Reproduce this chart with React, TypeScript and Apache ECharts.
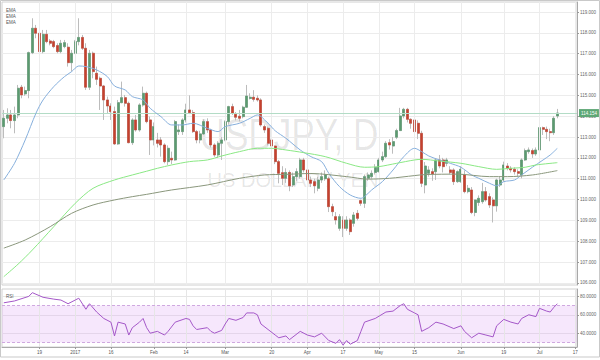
import { useEffect, useRef } from "react";
import * as echarts from "echarts";

// ---------- categories (trading days) ----------
const firstDay = "2016-12-05";
const lastDay = "2017-07-17";
function weekdays(a: string, b: string): string[] {
  const out: string[] = [];
  const d = new Date(a + "T00:00:00Z");
  const e = new Date(b + "T00:00:00Z");
  while (d <= e) {
    const w = d.getUTCDay();
    if (w !== 0 && w !== 6) out.push(d.toISOString().slice(0, 10));
    d.setUTCDate(d.getUTCDate() + 1);
  }
  return out;
}
const dates = weekdays(firstDay, lastDay);

// ---------- x tick labels ----------
const tickDates = [
  "2016-12-19", "2017-01-02", "2017-01-16", "2017-02-01", "2017-02-14", "2017-03-01", "2017-03-20",
  "2017-04-03", "2017-04-17", "2017-05-01", "2017-05-15", "2017-06-01", "2017-06-19", "2017-07-03", "2017-07-17",
];
const tickTexts = ["19", "2017", "16", "Feb", "14", "Mar", "20", "Apr", "17", "May", "15", "Jun", "19", "Jul", "17"];

// ---------- y tick values ----------
const priceTicks = [106, 107, 108, 109, 110, 111, 112, 113, 114, 115, 116, 117, 118, 119];
const rsiTicks = [40, 60, 80];
const rsiBand = [30, 70];

// ---------- daily candles: [open, close, low, high] ----------
const ohlc: [number, number, number, number][] = [
  [113.50, 113.90, 112.94, 114.30], [113.90, 114.06, 113.66, 114.38], [114.06, 113.79, 113.42, 114.30],
  [113.79, 114.06, 113.18, 114.46], [114.06, 115.34, 113.90, 115.50], [115.39, 115.02, 114.86, 115.50],
  [115.07, 115.23, 114.98, 115.42], [115.23, 117.05, 114.86, 117.10], [117.05, 118.22, 116.98, 118.70],
  [118.22, 117.98, 117.74, 118.38], [117.98, 117.10, 116.62, 118.06], [117.10, 117.93, 117.02, 118.14],
  [117.93, 117.58, 117.50, 118.14], [117.61, 117.50, 117.40, 117.70], [117.58, 117.34, 117.26, 117.66],
  [117.39, 117.10, 117.02, 117.50], [117.10, 117.50, 117.02, 117.66], [117.34, 117.53, 117.26, 117.66],
  [117.31, 116.57, 116.38, 117.50], [116.57, 117.02, 116.14, 117.18], [117.02, 117.58, 116.98, 117.66],
  [117.58, 117.78, 117.40, 118.70], [117.78, 117.26, 117.18, 117.90], [117.26, 115.39, 115.26, 117.50],
  [115.39, 117.02, 115.26, 117.18], [117.02, 116.14, 115.82, 117.10], [116.06, 115.77, 115.50, 116.38],
  [115.82, 115.45, 114.30, 115.90], [115.45, 114.78, 113.82, 115.50], [114.78, 114.49, 114.14, 114.94],
  [114.49, 114.22, 113.82, 114.62], [114.22, 112.67, 112.62, 114.46], [112.67, 114.65, 112.62, 114.78],
  [114.65, 114.89, 114.62, 115.66], [114.89, 114.62, 114.46, 115.02], [114.62, 112.73, 112.70, 114.70],
  [112.73, 113.82, 112.62, 113.90], [113.82, 113.34, 113.26, 114.06], [113.34, 114.54, 113.26, 114.62],
  [114.54, 115.10, 114.46, 115.42], [115.10, 113.74, 113.66, 115.18], [113.82, 112.86, 112.14, 113.98],
  [112.86, 113.50, 112.60, 113.70], [112.86, 112.70, 112.50, 113.20], [112.86, 112.62, 112.06, 113.00],
  [112.62, 111.82, 111.74, 112.70], [111.82, 112.46, 111.66, 112.60], [111.98, 111.90, 111.70, 112.30],
  [111.90, 113.74, 111.86, 113.82], [113.26, 113.34, 113.10, 113.60], [113.26, 113.82, 113.10, 113.90],
  [113.82, 114.30, 113.70, 114.60], [114.30, 114.17, 114.10, 115.00], [114.17, 113.26, 113.20, 114.30],
  [113.26, 112.86, 112.70, 113.34], [112.86, 113.15, 112.70, 113.30], [113.15, 113.74, 113.10, 113.85],
  [113.74, 113.34, 113.20, 113.90], [113.34, 112.62, 112.50, 113.40], [112.62, 112.14, 112.05, 112.70],
  [112.14, 112.70, 112.00, 112.80], [112.70, 112.86, 111.90, 113.00], [112.86, 113.74, 112.80, 113.80],
  [113.74, 114.46, 113.60, 114.50], [114.46, 114.14, 114.06, 114.60], [114.09, 113.95, 113.80, 114.20],
  [114.00, 113.90, 113.75, 114.30], [113.98, 114.43, 113.90, 114.50], [114.43, 114.97, 114.40, 115.50],
  [114.85, 114.91, 114.80, 115.10], [114.91, 114.81, 114.70, 115.25], [114.86, 114.78, 114.70, 115.00],
  [114.78, 113.58, 113.50, 114.86], [113.50, 113.34, 113.20, 113.60], [113.42, 112.70, 112.60, 113.50],
  [112.86, 112.57, 112.50, 112.90], [112.57, 111.82, 111.70, 112.60], [111.82, 111.26, 110.78, 111.90],
  [111.29, 111.02, 110.70, 111.60], [111.02, 111.30, 110.80, 111.50], [111.30, 110.66, 110.40, 111.40],
  [110.70, 111.10, 110.60, 111.30], [111.10, 111.34, 110.90, 111.50], [111.10, 111.90, 111.00, 112.00],
  [111.90, 111.42, 111.30, 112.00], [111.42, 110.94, 110.80, 111.50], [110.94, 110.78, 110.60, 111.10],
  [110.86, 110.66, 110.30, 111.00], [110.54, 110.94, 110.40, 111.10], [110.94, 111.10, 110.80, 111.30],
  [111.00, 111.20, 110.90, 111.40], [111.00, 109.66, 109.40, 111.10], [109.66, 109.42, 109.20, 109.80],
  [109.18, 109.02, 108.80, 109.40], [108.62, 109.18, 108.50, 109.30], [109.02, 108.62, 108.20, 109.20],
  [108.62, 109.02, 108.50, 109.20], [109.02, 108.46, 108.30, 109.10], [108.86, 109.26, 108.70, 109.40],
  [109.34, 109.10, 109.00, 109.50], [109.95, 109.82, 109.70, 110.00], [109.82, 111.10, 109.60, 111.20],
  [111.02, 111.18, 110.90, 111.30], [111.10, 111.26, 111.00, 111.40], [111.30, 111.55, 111.20, 111.70],
  [111.34, 111.90, 111.30, 112.00], [111.90, 112.06, 111.80, 112.30], [112.06, 112.70, 112.00, 112.80],
  [112.73, 112.62, 112.40, 112.90], [112.57, 112.78, 112.20, 113.00], [112.99, 113.31, 112.90, 113.40],
  [113.31, 114.01, 113.30, 114.40], [114.01, 114.33, 113.90, 114.40], [114.33, 113.85, 113.70, 114.40],
  [113.85, 113.66, 113.40, 113.90], [113.82, 113.26, 113.20, 113.90], [113.66, 113.18, 112.90, 113.80],
  [113.18, 110.78, 110.60, 113.30], [110.70, 111.61, 110.30, 111.80], [111.26, 111.42, 111.10, 111.60],
  [111.34, 111.23, 110.90, 111.50], [111.34, 111.90, 110.94, 111.98], [111.90, 111.61, 111.50, 112.14],
  [111.90, 111.58, 111.30, 112.00], [111.74, 111.90, 111.60, 112.00], [111.42, 111.30, 111.20, 111.60],
  [111.42, 110.86, 110.70, 111.50], [110.86, 111.34, 110.80, 111.40], [110.86, 111.45, 110.80, 111.60],
  [111.18, 110.38, 110.30, 111.40], [110.38, 110.54, 110.30, 110.70], [110.46, 109.38, 109.30, 110.60],
  [109.38, 109.98, 109.20, 110.00], [109.86, 110.06, 109.70, 110.20], [109.90, 110.38, 109.80, 110.80],
  [110.38, 109.98, 109.90, 110.60], [110.14, 109.74, 109.60, 110.30], [109.98, 109.70, 108.90, 110.10],
  [109.70, 110.94, 109.42, 111.00], [110.70, 110.94, 110.60, 111.10], [110.94, 111.66, 110.86, 111.82],
  [111.61, 111.50, 111.40, 111.75], [111.50, 111.42, 111.30, 111.60], [111.45, 111.34, 111.20, 111.55],
  [111.34, 111.26, 111.10, 111.45], [111.18, 111.90, 111.02, 111.98], [111.90, 112.35, 111.85, 112.45],
  [112.30, 112.38, 112.20, 112.50], [112.35, 112.19, 112.00, 112.45], [112.19, 112.38, 112.10, 112.50],
  [112.38, 113.45, 112.30, 113.50], [113.45, 113.37, 113.10, 113.50], [113.37, 113.26, 112.90, 113.50],
  [113.26, 113.21, 112.80, 113.40], [113.21, 113.90, 113.10, 114.00], [114.01, 114.154, 113.90, 114.35],
];

// ---------- moving averages, read at sample days: [day number (1 = first candle), value] ----------
const emaBlue: [number, number][] = [
  [1, 110.94], [4, 111.74], [7, 112.86], [10, 114.14], [12, 114.78], [15, 115.42], [18, 115.90], [20, 116.14],
  [22, 116.41], [24, 116.38], [27, 116.22], [30, 115.90], [32, 115.45], [35, 115.26], [37, 114.94], [40, 114.78],
  [42, 114.38], [45, 113.98], [48, 113.58], [51, 113.58], [54, 113.66], [58, 113.42], [61, 113.26], [63, 113.50],
  [67, 113.66], [70, 113.90], [72, 114.06], [75, 113.66], [77, 113.30], [80, 112.94], [84, 112.38], [87, 112.06],
  [90, 111.82], [92, 111.26], [95, 110.62], [98, 110.22], [101, 110.06], [102, 110.14], [104, 110.46], [107, 110.86],
  [110, 111.42], [113, 112.06], [116, 112.46], [118, 112.30], [120, 112.09], [123, 111.90], [126, 111.74],
  [129, 111.55], [132, 111.18], [134, 111.02], [137, 110.78], [139, 110.66], [141, 110.86], [144, 110.94],
  [146, 111.18], [149, 111.55], [152, 111.90], [154, 112.14], [156, 112.46],
];
const emaGreen: [number, number][] = [
  [1, 106.30], [5, 106.90], [9, 107.58], [15, 108.70], [21, 109.82], [26, 110.54], [32, 110.94], [37, 111.18],
  [41, 111.36], [44, 111.50], [48, 111.66], [53, 111.82], [58, 111.90], [62, 112.09], [67, 112.30], [72, 112.46],
  [76, 112.46], [80, 112.38], [85, 112.25], [91, 112.06], [97, 111.74], [102, 111.55], [106, 111.58], [111, 111.74],
  [116, 111.90], [118, 111.93], [123, 111.85], [129, 111.74], [134, 111.58], [139, 111.45], [143, 111.50],
  [147, 111.55], [150, 111.66], [156, 111.77],
];
const emaDark: [number, number][] = [
  [1, 107.67], [7, 108.06], [14, 108.70], [20, 109.34], [26, 109.74], [32, 109.98], [37, 110.14], [41, 110.25],
  [48, 110.46], [58, 110.70], [67, 111.02], [74, 111.18], [80, 111.21], [87, 111.25], [97, 111.10], [103, 110.98],
  [109, 111.02], [116, 111.15], [119, 111.20], [128, 111.22], [137, 111.10], [142, 111.10], [149, 111.18],
  [156, 111.39],
];

// ---------- RSI, read at sample days ----------
const rsi: [number, number][] = [
  [1, 73], [4, 75], [8, 80], [9, 84], [12, 79], [15, 77], [17, 76], [19, 72], [21, 76], [22, 78], [24, 66],
  [25, 72], [27, 63], [29, 56], [31, 52], [32, 37], [33, 52], [35, 50], [36, 38], [37, 46], [39, 52], [40, 56],
  [41, 46], [42, 40], [44, 42], [46, 38], [47, 42], [49, 52], [52, 56], [53, 55], [54, 48], [55, 44], [58, 46],
  [59, 42], [60, 40], [62, 43], [63, 50], [64, 56], [66, 54], [68, 57], [69, 62], [71, 62], [72, 60], [73, 50],
  [75, 44], [77, 38], [78, 35], [80, 37], [81, 33], [84, 42], [86, 38], [88, 36], [90, 40], [92, 32], [94, 29],
  [95, 33], [96, 27], [97, 32], [98, 28], [100, 32], [101, 42], [102, 52], [105, 56], [108, 63], [110, 64],
  [112, 70], [113, 72], [114, 66], [116, 62], [117, 60], [118, 42], [120, 46], [122, 52], [124, 50], [127, 45],
  [129, 48], [130, 42], [132, 35], [134, 40], [136, 38], [138, 36], [139, 48], [141, 55], [143, 52], [145, 50],
  [146, 56], [148, 60], [150, 58], [151, 67], [153, 64], [154, 63], [155, 68], [156, 72],
];

const GREEN = "#5b9b70";
const RED = "#c6412e";
const WICK = "#bcbcbc";
const FONT = "'Liberation Sans', Arial, sans-serif";

export default function App() {
  const ref = useRef<HTMLDivElement>(null);
  useEffect(() => {
    if (!ref.current) return;
    const chart = echarts.init(ref.current, undefined, { renderer: "svg" });
    const labelOf: Record<string, string> = {};
    tickDates.forEach((d, i) => (labelOf[d] = tickTexts[i]));
    const isTick = (_i: number, v: string) => v in labelOf;
    const toPts = (arr: [number, number][]) => arr.map(([n, v]) => [dates[n - 1], v]);
    const lastClose = ohlc[ohlc.length - 1][1];
    const vLines = tickDates.map((d) => ({ xAxis: d }));
    const blanks = dates.map(() => "-");

    chart.setOption({
      animation: false,
      backgroundColor: "#ffffff",
      textStyle: { fontFamily: FONT },
      grid: [
        { left: 2, right: 23, top: 2, height: 283, show: true, borderColor: "#d0d0d0", borderWidth: 1, backgroundColor: "transparent" },
        { left: 2, right: 23, top: 289, height: 58, show: true, borderColor: "#d0d0d0", borderWidth: 1, backgroundColor: "transparent" },
      ],
      xAxis: [
        {
          type: "category", gridIndex: 0, data: dates, boundaryGap: true,
          axisLine: { show: false }, axisTick: { show: false }, axisLabel: { show: false }, splitLine: { show: false },
        },
        {
          type: "category", gridIndex: 1, data: dates, boundaryGap: true,
          axisLine: { show: true, lineStyle: { color: "#aaaaaa" } },
          axisTick: { show: true, alignWithLabel: true, interval: isTick, length: 2, lineStyle: { color: "#999" } },
          axisLabel: { interval: isTick, formatter: (v: string) => labelOf[v] || "", fontSize: 4.5, color: "#555", margin: 3 },
          splitLine: { show: false },
        },
      ],
      yAxis: [
        {
          type: "value", gridIndex: 0, position: "right", min: 105.9, max: 119.48, scale: true,
          axisLine: { show: true, lineStyle: { color: "#a8a8a8" } },
          axisTick: { show: true, customValues: priceTicks, length: 2, lineStyle: { color: "#999" } },
          axisLabel: { customValues: priceTicks, formatter: (v: number) => v.toFixed(3), fontSize: 4.5, color: "#666", margin: 3 },
          splitLine: { show: true, lineStyle: { color: "#ececec", width: 1 } },
        },
        {
          type: "value", gridIndex: 1, position: "right", min: 25, max: 88, scale: true,
          axisLine: { show: true, lineStyle: { color: "#a8a8a8" } },
          axisTick: { show: true, customValues: rsiTicks, length: 2, lineStyle: { color: "#999" } },
          axisLabel: { customValues: rsiTicks, formatter: (v: number) => v.toFixed(4), fontSize: 4.5, color: "#666", margin: 3 },
          splitLine: { show: true, lineStyle: { color: "#e6e6e6", width: 1 } },
        },
      ],
      graphic: [
        { type: "rect", shape: { x: 0.5, y: 0.5, width: 599, height: 356.5 }, style: { fill: "none", stroke: "#c9c9c9", lineWidth: 1 }, z: 0, silent: true },
        { type: "text", x: 289, y: 134, z: 0, silent: true, scaleX: 0.78,
          style: { text: "USDJPY, D", fontSize: 45, fontFamily: FONT, fill: "rgba(0,0,0,0.1)", align: "center", verticalAlign: "middle" } },
        { type: "text", x: 293, y: 180, z: 0, silent: true,
          style: { text: "US DOLLAR / YEN", fontSize: 20, fontFamily: FONT, fill: "rgba(0,0,0,0.1)", align: "center", verticalAlign: "middle" } },
        { type: "text", x: 6, y: 10, z: 10, style: { text: "EMA", fontSize: 4.5, fontFamily: FONT, fill: "#555", verticalAlign: "middle" } },
        { type: "text", x: 6, y: 16, z: 10, style: { text: "EMA", fontSize: 4.5, fontFamily: FONT, fill: "#555", verticalAlign: "middle" } },
        { type: "text", x: 6, y: 22, z: 10, style: { text: "EMA", fontSize: 4.5, fontFamily: FONT, fill: "#555", verticalAlign: "middle" } },
        { type: "text", x: 6, y: 296, z: 10, style: { text: "RSI", fontSize: 4.5, fontFamily: FONT, fill: "#555", verticalAlign: "middle" } },
      ],
      series: [
        {
          name: "grid-main", type: "line", xAxisIndex: 0, yAxisIndex: 0, data: blanks, z: 1, silent: true, symbol: "none",
          markLine: { silent: true, symbol: ["none", "none"], label: { show: false }, lineStyle: { color: "#ececec", width: 1, type: "solid" }, data: vLines },
        },
        {
          name: "wicks", type: "candlestick", xAxisIndex: 0, yAxisIndex: 0, barWidth: "72%", z: 3,
          data: ohlc.map(([o, c, l, h]) => [o, c, l, h]),
          itemStyle: { color: WICK, color0: WICK, borderColor: WICK, borderColor0: WICK, borderWidth: 1 },
        },
        {
          name: "USDJPY", type: "candlestick", xAxisIndex: 0, yAxisIndex: 0, barWidth: "72%", z: 4,
          data: ohlc.map(([o, c]) => [o, c, Math.min(o, c), Math.max(o, c)]),
          itemStyle: { color: GREEN, color0: RED, borderColor: GREEN, borderColor0: RED, borderWidth: 0.5 },
          markLine: {
            silent: true, symbol: ["none", "none"],
            lineStyle: { color: "#b3dcc6", width: 1, type: "solid" },
            label: { show: true, position: "end", distance: 2, formatter: () => lastClose.toFixed(3), color: "#fff", backgroundColor: "#5da775", fontSize: 4.5, padding: [1.5, 2] },
            data: [{ yAxis: lastClose }],
          },
        },
        { name: "EMA 1", type: "line", xAxisIndex: 0, yAxisIndex: 0, data: toPts(emaBlue), smooth: 0.3, symbol: "none", z: 5, lineStyle: { color: "#86afdc", width: 1 } },
        { name: "EMA 2", type: "line", xAxisIndex: 0, yAxisIndex: 0, data: toPts(emaGreen), smooth: 0.3, symbol: "none", z: 5, lineStyle: { color: "#8ae884", width: 1 } },
        { name: "EMA 3", type: "line", xAxisIndex: 0, yAxisIndex: 0, data: toPts(emaDark), smooth: 0.3, symbol: "none", z: 5, lineStyle: { color: "#8a977c", width: 1 } },
        {
          name: "grid-rsi", type: "line", xAxisIndex: 1, yAxisIndex: 1, data: blanks, z: 1, silent: true, symbol: "none",
          markArea: { silent: true, itemStyle: { color: "rgba(222, 170, 245, 0.28)" }, data: [[{ yAxis: rsiBand[0] }, { yAxis: rsiBand[1] }]] },
          markLine: {
            silent: true, symbol: ["none", "none"], label: { show: false },
            data: [
              ...vLines.map((d) => ({ ...d, lineStyle: { color: "#e6e6e6", width: 1, type: "solid" } })),
              ...rsiBand.map((v) => ({ yAxis: v, lineStyle: { color: "#cfa8e0", width: 1, type: [3, 2] } })),
            ],
          },
        },
        { name: "RSI", type: "line", xAxisIndex: 1, yAxisIndex: 1, data: toPts(rsi), symbol: "none", z: 5, lineStyle: { color: "#a457c8", width: 1 } },
      ],
    });
    return () => chart.dispose();
  }, []);
  return <div ref={ref} style={{ width: 600, height: 360, position: "absolute", left: 0, top: 0 }} />;
}
